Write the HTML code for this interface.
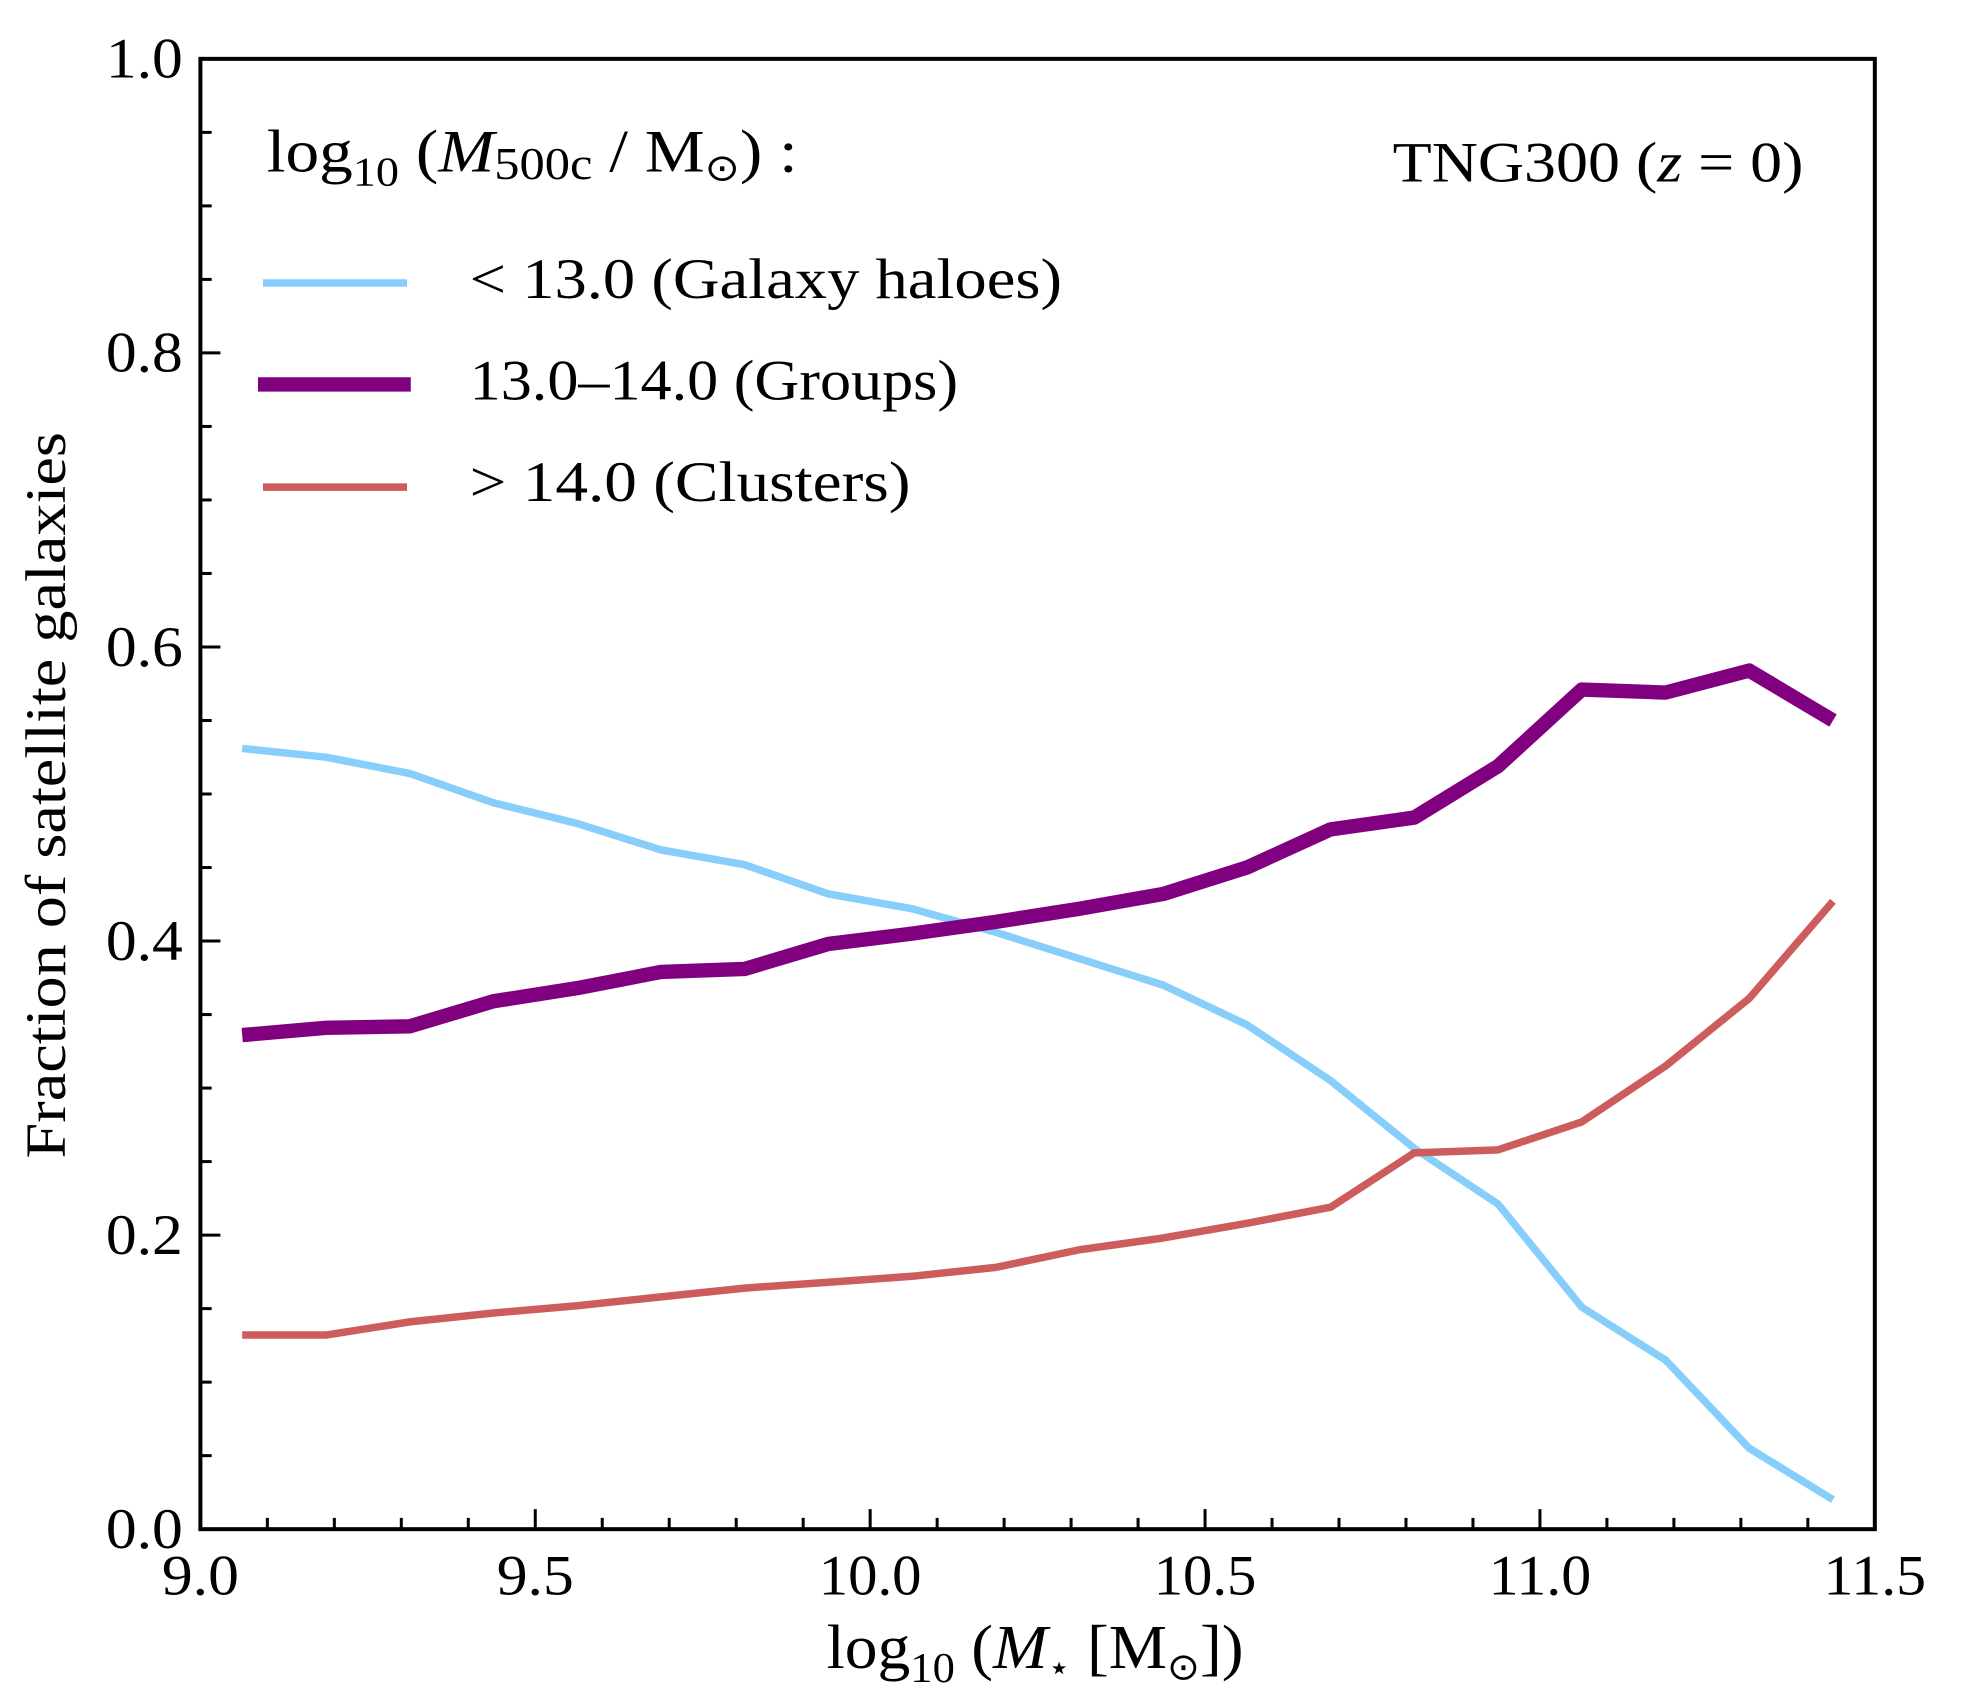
<!DOCTYPE html>
<html><head><meta charset="utf-8"><style>
html,body{margin:0;padding:0;background:#fff;}
svg{display:block;}
text{font-family:"Liberation Serif",serif;fill:#000;}
</style></head><body>
<svg id="chart" width="1965" height="1704" viewBox="0 0 1569 1360.6" xmlns="http://www.w3.org/2000/svg">
<g id="lines"></g>
<g id="axes"></g>
<rect x="160" y="47" width="1337" height="1174" fill="none" stroke="#000" stroke-width="3.2"/>
<text x="660" y="1332" font-size="50" textLength="333" lengthAdjust="spacingAndGlyphs">log<tspan font-size="34" dy="11">10</tspan><tspan dy="-11"> (</tspan><tspan font-style="italic">M</tspan><tspan font-size="28" dy="9">⋆</tspan><tspan dy="-9"> [M</tspan><tspan font-size="30" dy="9">⊙</tspan><tspan dy="-9">])</tspan></text>
<text transform="translate(52,635) rotate(-90)" font-size="46" text-anchor="middle" textLength="580" lengthAdjust="spacingAndGlyphs">Fraction of satellite galaxies</text>
<text x="213" y="137" font-size="48" textLength="424" lengthAdjust="spacingAndGlyphs">log<tspan font-size="33" dy="11">10</tspan><tspan dy="-11"> (</tspan><tspan font-style="italic">M</tspan><tspan font-size="36" dy="6">500c</tspan><tspan dy="-6"> / M</tspan><tspan font-size="30" dy="7">⊙</tspan><tspan dy="-7">) :</tspan></text>
<text x="1112" y="145" font-size="46" textLength="328" lengthAdjust="spacingAndGlyphs">TNG300 (<tspan font-style="italic">z</tspan> = 0)</text>
<g>
<line x1="210" y1="226" x2="325" y2="226" stroke="#87CEFA" stroke-width="6"/>
<text x="375" y="238" font-size="46" textLength="473" lengthAdjust="spacingAndGlyphs">&lt; 13.0 (Galaxy haloes)</text>
<line x1="206" y1="307" x2="328" y2="307" stroke="#800080" stroke-width="11.5"/>
<text x="375" y="319" font-size="46" textLength="390" lengthAdjust="spacingAndGlyphs">13.0–14.0 (Groups)</text>
<line x1="210" y1="389" x2="325" y2="389" stroke="#CD5C5C" stroke-width="6"/>
<text x="375" y="400" font-size="46" textLength="352" lengthAdjust="spacingAndGlyphs">&gt; 14.0 (Clusters)</text>
</g>
</svg>
<script>
const xCenters = [9.0625,9.1875,9.3125,9.4375,9.5625,9.6875,9.8125,9.9375,10.0625,10.1875,10.3125,10.4375,10.5625,10.6875,10.8125,10.9375,11.0625,11.1875,11.3125,11.4375];
const galaxyHaloes = [0.531,0.525,0.514,0.494,0.480,0.462,0.452,0.432,0.422,0.406,0.388,0.370,0.343,0.305,0.259,0.221,0.151,0.115,0.055,0.020];
const groups = [0.336,0.341,0.342,0.359,0.368,0.379,0.381,0.398,0.405,0.413,0.422,0.432,0.450,0.476,0.484,0.519,0.571,0.569,0.584,0.550];
const clusters = [0.132,0.132,0.141,0.147,0.152,0.158,0.164,0.168,0.172,0.178,0.190,0.198,0.208,0.219,0.256,0.258,0.277,0.315,0.361,0.427];
const xTickLabels = ["9.0","9.5","10.0","10.5","11.0","11.5"];
const yTickLabels = ["0.0","0.2","0.4","0.6","0.8","1.0"];

const NS = "http://www.w3.org/2000/svg";
const X0=160, X1=1497, Y0=1221, Y1=47;
const xs = v => X0 + (v-9.0)/(11.5-9.0)*(X1-X0);
const ys = v => Y0 - v*(Y0-Y1);
const lines = document.getElementById('lines');
const axes = document.getElementById('axes');

function series(vals, color, w, name){
  const p = document.createElementNS(NS,'polyline');
  p.setAttribute('points', vals.map((v,i)=>xs(xCenters[i]).toFixed(1)+','+ys(v).toFixed(1)).join(' '));
  p.setAttribute('fill','none'); p.setAttribute('stroke',color);
  p.setAttribute('stroke-width',w); p.setAttribute('stroke-linejoin','round');
  
  
  lines.appendChild(p);
}
series(galaxyHaloes,'#87CEFA',6,'line-galaxy-haloes');
series(clusters,'#CD5C5C',6,'line-clusters');
series(groups,'#800080',11.5,'line-groups');

function tick(x1,y1,x2,y2){
  const l=document.createElementNS(NS,'line');
  l.setAttribute('x1',x1);l.setAttribute('y1',y1);l.setAttribute('x2',x2);l.setAttribute('y2',y2);
  l.setAttribute('stroke','#000');l.setAttribute('stroke-width',2.4);
  
  
  axes.appendChild(l);
}
function label(x,y,t,anchor,name){
  const e=document.createElementNS(NS,'text');
  e.setAttribute('x',x);e.setAttribute('y',y);e.setAttribute('font-size',46);
  e.setAttribute('text-anchor',anchor);e.textContent=t;
  e.setAttribute('textLength', t.length*20.5);
  e.setAttribute('lengthAdjust','spacingAndGlyphs');
  
  
  axes.appendChild(e);
}
for(let i=0;i<=25;i++){
  const v=9.0+i*0.1, x=xs(v), major=(i%5===0);
  tick(x,Y0,x,Y0-(major?16:9));
}
xTickLabels.forEach(t=>label(xs(parseFloat(t)),Y0+52,t,'middle','x-tick-label'));
for(let i=0;i<=20;i++){
  const v=i*0.05, y=ys(v), major=(i%4===0);
  tick(X0,y,X0+(major?16:9),y);
}
yTickLabels.forEach(t=>label(X0-14,ys(parseFloat(t))+15,t,'end','y-tick-label'));
</script>
</body></html>
